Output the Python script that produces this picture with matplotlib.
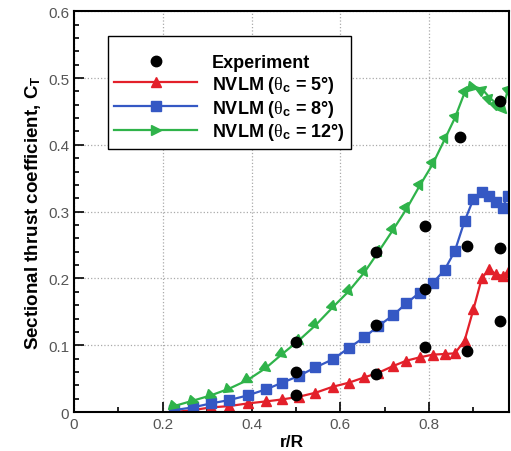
import matplotlib
matplotlib.use("Agg")
import matplotlib.pyplot as plt
import numpy as np
from matplotlib.ticker import MultipleLocator, FormatStrFormatter
from matplotlib.markers import MarkerStyle
from matplotlib.transforms import Affine2D
from matplotlib.lines import Line2D

plt.rcParams['font.family'] = ['Liberation Sans', 'DejaVu Sans']
plt.rcParams['mathtext.fontset'] = 'custom'
plt.rcParams['mathtext.rm'] = 'Liberation Sans:bold'
plt.rcParams['mathtext.it'] = 'Liberation Serif'
plt.rcParams['mathtext.bf'] = 'Liberation Sans:bold'

# experiment (r/R, C_T)
exp_r = [0.5, 0.68, 0.79, 0.885, 0.96,
         0.5, 0.68, 0.79, 0.885, 0.96,
         0.5, 0.68, 0.79, 0.87, 0.96]
exp_ct = [0.025, 0.057, 0.097, 0.092, 0.137,
          0.060, 0.130, 0.184, 0.248, 0.246,
          0.105, 0.240, 0.279, 0.412, 0.466]

# NVLM stations
r_nvlm = [0.225, 0.267, 0.308, 0.349, 0.391, 0.432, 0.469, 0.506, 0.544, 0.583,
          0.619, 0.654, 0.686, 0.719, 0.749, 0.779, 0.808, 0.835, 0.858, 0.880,
          0.900, 0.919, 0.936, 0.951, 0.966, 0.977]
ct_5 = [0.000, 0.003, 0.007, 0.009, 0.013, 0.016, 0.019, 0.023, 0.029, 0.038,
        0.044, 0.052, 0.059, 0.069, 0.077, 0.082, 0.086, 0.087, 0.088, 0.107,
        0.154, 0.201, 0.214, 0.206, 0.204, 0.210]
ct_8 = [0.003, 0.007, 0.013, 0.018, 0.025, 0.034, 0.044, 0.054, 0.067, 0.079,
        0.096, 0.112, 0.129, 0.145, 0.163, 0.179, 0.193, 0.213, 0.241, 0.286,
        0.319, 0.329, 0.324, 0.314, 0.306, 0.324]
ct_12 = [0.009, 0.017, 0.025, 0.035, 0.048, 0.066, 0.087, 0.107, 0.130, 0.157,
         0.181, 0.209, 0.240, 0.273, 0.304, 0.339, 0.371, 0.408, 0.440, 0.478,
         0.487, 0.484, 0.471, 0.462, 0.453, 0.481]

red, blue, green = '#e3202a', '#3558c4', '#2fb34a'

fig = plt.figure(figsize=(5.11, 4.52), dpi=100)
ax = fig.add_axes([0.145, 0.086, 0.851, 0.887])
ax.set_xlim(0, 0.98)
ax.set_ylim(0, 0.6)

ax.plot(exp_r, exp_ct, 'o', color='black', markersize=7.5, zorder=4)
ax.plot(r_nvlm, ct_5, '-^', color=red, lw=1.6, markersize=7)
ax.plot(r_nvlm, ct_8, '-s', color=blue, lw=1.6, markersize=6.5)
ax.plot(r_nvlm, ct_12, '-', color=green, lw=1.6)

# green triangles follow the curve direction
pts = ax.transData.transform(np.column_stack([r_nvlm, ct_12]))
ang = np.degrees(np.arctan2(np.gradient(pts[:, 1]), np.gradient(pts[:, 0])))
for xi, yi, a in zip(r_nvlm, ct_12, ang):
    m = MarkerStyle('>', transform=Affine2D().rotate_deg(-a))
    ax.plot(xi, yi, marker=m, color=green, markersize=7, linestyle='none')

ax.xaxis.set_major_locator(MultipleLocator(0.2))
ax.xaxis.set_minor_locator(MultipleLocator(0.1))
ax.yaxis.set_major_locator(MultipleLocator(0.1))
ax.yaxis.set_minor_locator(MultipleLocator(0.02))
ax.xaxis.set_major_formatter(FormatStrFormatter('%g'))
ax.yaxis.set_major_formatter(FormatStrFormatter('%g'))
ax.tick_params(which='both', direction='in', labelsize=11, labelcolor='#555555', width=1.2)
ax.tick_params(which='major', length=7)
ax.tick_params(which='minor', length=3.5)
for s in ax.spines.values():
    s.set_linewidth(1.5)
ax.grid(True, which='major', linestyle=':', color='#aaaaaa', lw=0.9)

ax.set_xlabel('r/R', fontsize=12.5, fontweight='bold', labelpad=2)
ax.set_ylabel(r'Sectional thrust coefficient, C$_\mathbf{T}$', fontsize=13.5, fontweight='bold', labelpad=4)

handles = [Line2D([], [], marker='o', color='black', linestyle='none', markersize=7.5),
           Line2D([], [], marker='^', color=red, lw=1.6, markersize=7),
           Line2D([], [], marker='s', color=blue, lw=1.6, markersize=6.5),
           Line2D([], [], marker='>', color=green, lw=1.6, markersize=7)]
labels = ['Experiment',
          r'NVLM ($\mathit{\theta}_\mathrm{c}$ = 5°)',
          r'NVLM ($\mathit{\theta}_\mathrm{c}$ = 8°)',
          r'NVLM ($\mathit{\theta}_\mathrm{c}$ = 12°)']
leg = ax.legend(handles, labels, loc='upper left', bbox_to_anchor=(0.078, 0.938), borderaxespad=0,
                fancybox=False, framealpha=1, edgecolor='black', handlelength=4.6, handletextpad=0.8,
                borderpad=0.35, labelspacing=0.15, prop={'weight': 'bold', 'size': 13},
                title=' ', title_fontproperties={'size': 6.5})
leg.get_frame().set_linewidth(1.0)

fig.savefig('out.png', dpi=100)
